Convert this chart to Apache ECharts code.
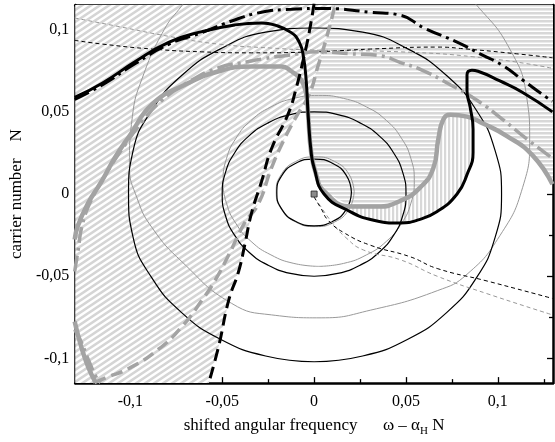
<!DOCTYPE html>
<html>
<head>
<meta charset="utf-8">
<script src="https://cdn.jsdelivr.net/npm/echarts@6.0.0/dist/echarts.min.js"></script>
<style>
html,body{margin:0;padding:0;background:#fff;}
#chart{width:555px;height:442px;}
</style>
</head>
<body>
<div id="chart"></div>
<script>
// ticks
var xMajorTicks = [-0.1, -0.05, 0, 0.05, 0.1];
var xMinorTicks = [-0.125, -0.075, -0.025, 0.025, 0.075, 0.125];
var yMajorTicks = [-0.1, -0.05, 0, 0.05, 0.1];
var yMinorTicks = [-0.075, -0.025, 0.025, 0.075];

// thick curves
var blackSolid = [[-0.1303,0.0588],[-0.1151,0.0676],[-0.0973,0.0806],[-0.0789,0.0924],[-0.0611,0.0988],[-0.0432,0.1029],[-0.0286,0.1041],[-0.0216,0.1029],[-0.0124,0.0982],[-0.0081,0.0924],[-0.0059,0.0841],[-0.0043,0.0688],[-0.0032,0.0471],[-0.0016,0.0253],[0,0.0159],[0.0054,0],[0.0184,-0.01],[0.0324,-0.0159],[0.047,-0.0176],[0.0562,-0.0159],[0.067,-0.0106],[0.0778,0],[0.0832,0.0118],[0.0865,0.0253],[0.0865,0.0394],[0.0849,0.0529],[0.0832,0.0629],[0.0832,0.0724],[0.0859,0.0753],[0.0892,0.0747],[0.1011,0.0688],[0.1135,0.0618],[0.1297,0.05]];
var graySolid = [[-0.1303,-0.0276],[-0.1286,-0.0194],[-0.1232,-0.0059],[-0.1157,0.0076],[-0.1086,0.0218],[-0.1005,0.0353],[-0.0881,0.0547],[-0.0703,0.0665],[-0.0519,0.0747],[-0.0341,0.0776],[-0.0178,0.0776],[-0.0124,0.0747],[-0.007,0.0694],[-0.0043,0.0606],[-0.0032,0.0471],[-0.0016,0.0253],[0.0011,0.0118],[0.0054,0.0018],[0.02,-0.0076],[0.0346,-0.0076],[0.047,-0.0041],[0.0578,0.0041],[0.0649,0.0159],[0.0676,0.0335],[0.0703,0.0453],[0.0741,0.0482],[0.0832,0.0471],[0.0919,0.0429],[0.1049,0.0353],[0.1189,0.0235],[0.1297,0.0059]];
var graySolidLow = [[-0.1303,-0.0776],[-0.1286,-0.0853],[-0.1259,-0.0959],[-0.1227,-0.1059],[-0.1189,-0.1147]];
var blackDashed = [[0,0.1159],[-0.0027,0.0982],[-0.0054,0.0841],[-0.0097,0.0647],[-0.0141,0.0488],[-0.0232,0.0276],[-0.0286,0.0076],[-0.0341,-0.0118],[-0.0378,-0.0312],[-0.0411,-0.0471],[-0.0465,-0.0647],[-0.0519,-0.0924],[-0.0573,-0.1147]];
var grayDashed = [[-0.1195,-0.1147],[-0.1135,-0.1118],[-0.1005,-0.1059],[-0.0843,-0.0941],[-0.0719,-0.0806],[-0.0611,-0.0647],[-0.0541,-0.0529],[-0.0465,-0.0371],[-0.0378,-0.0176],[-0.0303,-0.0059],[-0.0232,0.0159],[-0.0162,0.0335],[-0.0097,0.0471],[-0.0027,0.0606],[0.0022,0.0782],[0.0065,0.0941],[0.0114,0.1147]];
var blackDashDot = [[-0.1303,0.0576],[-0.1151,0.0665],[-0.0973,0.0794],[-0.0789,0.0912],[-0.0611,0.0982],[-0.0432,0.1059],[-0.0286,0.1106],[-0.0124,0.1124],[0.0054,0.1129],[0.0308,0.1106],[0.047,0.1088],[0.0595,0.1012],[0.0778,0.0924],[0.0903,0.0853],[0.1027,0.0782],[0.1135,0.0694],[0.1265,0.0588],[0.1297,0.0565]];
var grayDashDot = [[-0.1303,-0.0471],[-0.1286,-0.0353],[-0.1259,-0.0176],[-0.1205,-0.0018],[-0.1135,0.0118],[-0.1043,0.0276],[-0.0935,0.0441],[-0.0827,0.0571],[-0.0692,0.0676],[-0.053,0.0765],[-0.0357,0.0806],[-0.027,0.0824],[-0.0162,0.0841],[0.0038,0.0865],[0.02,0.0853],[0.0362,0.0841],[0.047,0.08],[0.0578,0.0759],[0.0741,0.0665],[0.0886,0.0571],[0.1027,0.0453],[0.1157,0.0335],[0.1297,0.0218]];
var grayDashDotLow = [[-0.1303,-0.0824],[-0.127,-0.0894],[-0.1227,-0.1012],[-0.1184,-0.1118],[-0.1162,-0.1147]];

// thin dashed curves
var blackThinUpper = [[-0.1303,0.0935],[-0.1151,0.0912],[-0.0881,0.0882],[-0.0611,0.0865],[-0.0341,0.0859],[0,0.0865],[0.0308,0.0882],[0.067,0.0894],[0.0832,0.0882],[0.1103,0.0853],[0.1297,0.0829]];
var grayThinUpper = [[-0.1303,0.1071],[-0.1059,0.1018],[-0.0789,0.0959],[-0.0519,0.0912],[-0.0232,0.0888],[0,0.0876],[0.047,0.0865],[0.0957,0.0824],[0.1297,0.0765]];
var blackThinLower = [[0,-0.0018],[0.0038,-0.0088],[0.0076,-0.0159],[0.0162,-0.0235],[0.0308,-0.0312],[0.0524,-0.0382],[0.067,-0.0453],[0.0941,-0.0529],[0.1297,-0.0635]];
var grayThinLower = [[0.0027,-0.0059],[0.0092,-0.0165],[0.0173,-0.0265],[0.027,-0.0341],[0.047,-0.04],[0.067,-0.05],[0.0941,-0.0606],[0.1297,-0.0735]];

// thin rings
var blackRingS = [[0.0203,0.001],[0.0176,0.0112],[0.0102,0.0186],[0,0.0213],[-0.0102,0.0186],[-0.0176,0.0112],[-0.0203,0.001],[-0.0176,-0.0092],[-0.0102,-0.0166],[0,-0.0193],[0.0102,-0.0166],[0.0176,-0.0092],[0.0203,0.001]];
var grayRingS = [[0.0218,0.0014],[0.019,0.012],[0.0112,0.0198],[0.0006,0.0226],[-0.01,0.0198],[-0.0178,0.012],[-0.0206,0.0014],[-0.0178,-0.0092],[-0.01,-0.017],[0.0006,-0.0198],[0.0112,-0.017],[0.019,-0.0092],[0.0218,0.0014]];
var blackRingM = [[0,-0.05],[0.0129,-0.0483],[0.025,-0.0433],[0.0354,-0.0354],[0.0433,-0.025],[0.0483,-0.0129],[0.05,0],[0.0483,0.0129],[0.0433,0.025],[0.0354,0.0354],[0.025,0.0433],[0.0129,0.0483],[0,0.05],[-0.0129,0.0483],[-0.025,0.0433],[-0.0354,0.0354],[-0.0433,0.025],[-0.0483,0.0129],[-0.05,0],[-0.0483,-0.0129],[-0.0433,-0.025],[-0.0354,-0.0354],[-0.025,-0.0433],[-0.0129,-0.0483],[0,-0.05]];
var grayRingM = [[0.0025,-0.044],[0.016,-0.0422],[0.0285,-0.037],[0.0393,-0.0288],[0.0475,-0.018],[0.0527,-0.0055],[0.0545,0.008],[0.0527,0.0215],[0.0475,0.034],[0.0393,0.0448],[0.0285,0.053],[0.016,0.0582],[0.0025,0.06],[-0.011,0.0582],[-0.0235,0.053],[-0.0343,0.0448],[-0.0425,0.034],[-0.0477,0.0215],[-0.0495,0.008],[-0.0477,-0.0055],[-0.0425,-0.018],[-0.0343,-0.0288],[-0.0235,-0.037],[-0.011,-0.0422],[0.0025,-0.044]];
var blackRingL = [[0,-0.102],[0.0264,-0.0985],[0.051,-0.0883],[0.0721,-0.0721],[0.0883,-0.051],[0.0985,-0.0264],[0.102,0],[0.0985,0.0264],[0.0883,0.051],[0.0721,0.0721],[0.051,0.0883],[0.0264,0.0985],[0,0.101],[-0.0264,0.0985],[-0.051,0.0883],[-0.0721,0.0721],[-0.0883,0.051],[-0.0985,0.0264],[-0.101,0],[-0.0985,-0.0264],[-0.0883,-0.051],[-0.0721,-0.0721],[-0.051,-0.0883],[-0.0264,-0.0985],[0,-0.102]];
var grayRingL = [[-0.0638,0.1265],[-0.0719,0.1147],[-0.0816,0.1],[-0.0935,0.0706],[-0.0989,0.0471],[-0.1005,0.0176],[-0.0962,-0.0029],[-0.0881,-0.0206],[-0.0719,-0.0412],[-0.0449,-0.0665],[-0.0232,-0.0735],[0.0038,-0.0753],[0.0308,-0.0706],[0.067,-0.0588],[0.0832,-0.0488],[0.1011,-0.0253],[0.1135,0.0041],[0.1173,0.0335],[0.1157,0.0588],[0.1065,0.0882],[0.0886,0.1147],[0.0768,0.1265]];

// hatched regions
var diagRegion = [[-0.13,0.115],[0.0114,0.115],[0.0065,0.0941],[0.0022,0.0782],[-0.0027,0.0606],[-0.0097,0.0471],[-0.0162,0.0335],[-0.0232,0.0159],[-0.0303,-0.0059],[-0.0341,-0.0118],[-0.0378,-0.0312],[-0.0411,-0.0471],[-0.0465,-0.0647],[-0.0519,-0.0924],[-0.0573,-0.115],[-0.13,-0.115]];
var horizRegion = [[0.0114,0.115],[0.13,0.115],[0.13,0.0059],[0.1189,0.0235],[0.1049,0.0353],[0.0919,0.0429],[0.0832,0.0471],[0.0741,0.0482],[0.0703,0.0453],[0.0676,0.0335],[0.0649,0.0159],[0.0578,0.0041],[0.047,-0.0041],[0.0346,-0.0076],[0.02,-0.0076],[0.0054,0.0018],[0.0011,0.0118],[-0.0016,0.0253],[-0.0032,0.0471],[-0.0027,0.0606],[0.0022,0.0782],[0.0065,0.0941]];
var vertRegion = [[0.0184,-0.0085],[0.0346,-0.0076],[0.047,-0.0041],[0.0578,0.0041],[0.0649,0.0159],[0.0676,0.0335],[0.0703,0.0453],[0.0741,0.0482],[0.0832,0.0471],[0.0862,0.0455],[0.0865,0.0394],[0.0865,0.0253],[0.0832,0.0118],[0.0778,0],[0.067,-0.0106],[0.0562,-0.0159],[0.047,-0.0176],[0.0324,-0.0159],[0.0184,-0.01]];

var origin = [[0, 0]];

function makeHatch(kind) {
	var c = document.createElement('canvas');
	var g;
	if (kind == 'diag') {
		var w = 9, h = 6;
		c.width = w; c.height = h;
		g = c.getContext('2d');
		g.fillStyle = '#fff'; g.fillRect(0, 0, w, h);
		g.strokeStyle = '#d5d5d5'; g.lineWidth = 2.6;
		for (var k = -1; k <= 1; k++) {
			g.beginPath();
			g.moveTo(-w, 2 * h + k * h);
			g.lineTo(2 * w, -h + k * h);
			g.stroke();
		}
	} else if (kind == 'horiz') {
		c.width = 4; c.height = 4;
		g = c.getContext('2d');
		g.fillStyle = '#fff'; g.fillRect(0, 0, 4, 4);
		g.fillStyle = '#d8d8d8'; g.fillRect(0, 0, 4, 2.5);
	} else {
		c.width = 4; c.height = 4;
		g = c.getContext('2d');
		g.fillStyle = '#fff'; g.fillRect(0, 0, 4, 4);
		g.fillStyle = '#d8d8d8'; g.fillRect(0, 0, 2.2, 4);
	}
	return { image: c, repeat: 'repeat' };
}

function region(points, kind) {
	var pat = makeHatch(kind);
	return {
		type: 'custom',
		data: [[0, 0]],
		clip: true,
		silent: true,
		z: 1,
		renderItem: function (params, api) {
			var pts = points.map(function (p) { return api.coord(p); });
			return { type: 'polygon', shape: { points: pts }, style: { fill: pat, stroke: null } };
		}
	};
}

function curve(data, color, width, type, z) {
	return {
		type: 'line',
		data: data,
		smooth: true,
		symbol: 'none',
		showSymbol: false,
		silent: true,
		clip: true,
		z: z,
		lineStyle: { color: color, width: width, type: type }
	};
}

var gray = '#a3a3a3';
var fontFam = '"Liberation Serif", "Times New Roman", serif';

function fmt(v) { return String(+v.toFixed(3)).replace('.', ','); }

function xAx(pos, ticks, len, line, label) {
	return {
		type: 'value', min: -0.13, max: 0.13, position: pos,
		axisLine: { show: line, onZero: false, lineStyle: { color: '#000', width: 2.5 } },
		axisTick: { show: true, inside: true, length: len, customValues: ticks, lineStyle: { color: '#000', width: 1.3 } },
		axisLabel: { show: label, customValues: ticks, formatter: fmt, margin: 11, color: '#000', fontSize: 16, fontFamily: fontFam },
		splitLine: { show: false }
	};
}
function yAx(pos, ticks, len, line, label) {
	return {
		type: 'value', min: -0.115, max: 0.115, position: pos,
		axisLine: { show: line, onZero: false, lineStyle: { color: '#000', width: 2.5 } },
		axisTick: { show: true, inside: true, length: len, customValues: ticks, lineStyle: { color: '#000', width: 1.3 } },
		axisLabel: { show: label, customValues: ticks, formatter: fmt, margin: 6, color: '#000', fontSize: 16, fontFamily: fontFam },
		splitLine: { show: false }
	};
}

var xAxes = [xAx('bottom', xMajorTicks, 6, true, true), xAx('bottom', xMinorTicks, 4, false, false), xAx('top', xMajorTicks, 6, true, false), xAx('top', xMinorTicks, 4, false, false)];
xAxes[0].name = 'shifted angular frequency      \u03c9 \u2013 \u03b1{sub|H} N';
xAxes[0].nameLocation = 'middle';
xAxes[0].nameGap = 27;
xAxes[0].nameTextStyle = { color: '#000', fontSize: 17, fontFamily: fontFam, lineHeight: 22, verticalAlign: 'top', rich: { sub: { fontSize: 11, lineHeight: 11, verticalAlign: 'bottom', fontFamily: fontFam, color: '#000' } } };

var yAxes = [yAx('left', yMajorTicks, 6, true, true), yAx('left', yMinorTicks, 4, false, false), yAx('right', yMajorTicks, 6, true, false), yAx('right', yMinorTicks, 4, false, false)];
yAxes[0].name = 'carrier number    N';
yAxes[0].nameLocation = 'middle';
yAxes[0].nameGap = 46;
yAxes[0].nameTextStyle = { color: '#000', fontSize: 17, fontFamily: fontFam };

var chart = echarts.init(document.getElementById('chart'), null, { renderer: 'canvas' });
chart.setOption({
	animation: false,
	backgroundColor: '#fff',
	grid: { left: 72, right: 2, top: 5, bottom: 47, containLabel: false },
	xAxis: xAxes,
	yAxis: yAxes,
	series: [
		region(diagRegion, 'diag'),
		region(horizRegion, 'horiz'),
		region(vertRegion, 'vert'),
		curve(grayRingL, '#999', 1, 'solid', 3),
		curve(grayRingM, '#999', 1, 'solid', 3),
		curve(grayRingS, '#999', 1, 'solid', 3),
		curve(blackRingL, '#000', 1.2, 'solid', 3),
		curve(blackRingM, '#000', 1.2, 'solid', 3),
		curve(blackRingS, '#000', 1.2, 'solid', 3),
		curve(grayThinUpper, '#999', 1, [4, 3], 4),
		curve(grayThinLower, '#999', 1, [4, 3], 4),
		curve(blackThinUpper, '#000', 1, [4, 3], 4),
		curve(blackThinLower, '#000', 1, [4, 3], 4),
		curve(grayDashDot, gray, 3.5, [16, 5, 3, 5], 5),
		curve(grayDashDotLow, gray, 3.5, [16, 5, 3, 5], 5),
		curve(grayDashed, gray, 3.5, [12, 6], 5),
		curve(graySolid, gray, 4.5, 'solid', 6),
		curve(graySolidLow, gray, 4.5, 'solid', 6),
		curve(blackDashDot, '#000', 3, [16, 5, 3, 5], 7),
		curve(blackDashed, '#000', 3, [12, 6], 7),
		curve(blackSolid, '#000', 3, 'solid', 8),
		{
			type: 'scatter', data: origin, symbol: 'rect', symbolSize: 6, silent: true, z: 9,
			itemStyle: { color: '#6e6e6e', borderColor: '#222', borderWidth: 1 }
		}
	]
});
</script>
</body>
</html>
